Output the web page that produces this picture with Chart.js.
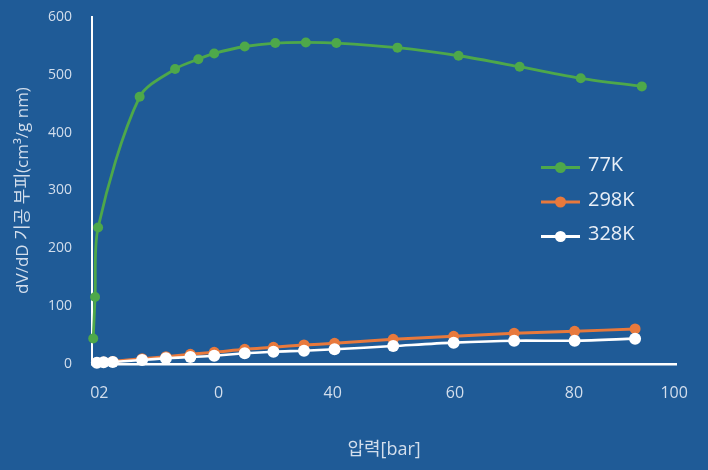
<!DOCTYPE html>
<html>
<head>
<meta charset="utf-8">
<script src="https://cdn.jsdelivr.net/npm/chart.js@4"></script>
<style>
  html, body { margin: 0; padding: 0; background: #1f5b97; }
  #wrap { width: 708px; height: 470px; }
</style>
</head>
<body>
<div id="wrap"><canvas id="c" width="708" height="470"></canvas></div>
<script>
// Pressure (bar) and pore volume readings per temperature
const p77 = [0.2, 0.5, 1, 7.8, 13.6, 17.4, 20, 25, 30, 35, 40, 50, 60, 70, 80, 90];
const v77 = [44, 116, 236, 462, 510, 527, 537, 549, 555, 556, 555, 547, 533, 514, 494, 480];

const p298 = [0.8, 1.9, 3.4, 8.2, 12.1, 16.1, 20, 25, 29.7, 34.7, 39.7, 49.3, 59.2, 69.1, 79, 88.9];
const v298 = [2.5, 3.5, 4.5, 9.2, 12.7, 16.8, 20.2, 25.4, 28.9, 32.9, 35.8, 42.7, 47.9, 53.1, 56.6, 60.6];

const p328 = [0.8, 1.9, 3.4, 8.2, 12.1, 16.1, 20, 25, 29.7, 34.7, 39.7, 49.3, 59.2, 69.1, 79, 88.9];
const v328 = [2.2, 2.9, 3.5, 6.9, 9.9, 12.1, 14.4, 18.5, 21.3, 23.0, 25.4, 31.1, 36.9, 40.3, 40.3, 43.8];

const seriesNames = ['77K', '298K', '328K'];
const xTickValues = [1.2, 20.7, 39.4, 59.4, 78.9, 95.3];
const xTickLabels = ['02', '0', '40', '60', '80', '100'];

const FONT = "'Open Sans', 'Noto Sans CJK KR', sans-serif";
const toXY = (xs, ys) => xs.map((x, i) => ({ x, y: ys[i] }));

// Legend drawn inside the plot area, using each dataset's own styling
const insideLegend = {
  id: 'insideLegend',
  afterDraw(chart) {
    const ctx = chart.ctx;
    const rows = [0, 1, 2];
    const y0 = 167.5, gap = 34.5;
    ctx.save();
    rows.forEach((di, r) => {
      const ds = chart.data.datasets[di];
      const y = y0 + r * gap;
      ctx.strokeStyle = ds.borderColor;
      ctx.lineWidth = 3;
      ctx.beginPath();
      ctx.moveTo(541, y);
      ctx.lineTo(580, y);
      ctx.stroke();
      ctx.fillStyle = ds.pointBackgroundColor;
      ctx.beginPath();
      ctx.arc(560.5, y, 5.5, 0, Math.PI * 2);
      ctx.fill();
      ctx.fillStyle = '#e9eff7';
      ctx.font = '20px ' + FONT;
      ctx.textAlign = 'left';
      ctx.textBaseline = 'middle';
      ctx.fillText(ds.label, 588, y - 2);
    });
    ctx.restore();
  }
};

new Chart(document.getElementById('c'), {
  type: 'scatter',
  data: {
    datasets: [
      {
        label: seriesNames[0], data: toXY(p77, v77), showLine: true,
        borderColor: '#4ea84a', backgroundColor: '#4ea84a',
        pointBackgroundColor: '#4ea84a', pointBorderWidth: 0,
        pointRadius: 5, borderWidth: 2.8, tension: 0.3,
        clip: false, order: 0
      },
      {
        label: seriesNames[1], data: toXY(p298, v298), showLine: true,
        borderColor: '#e8793c', backgroundColor: '#e8793c',
        pointBackgroundColor: '#e8793c', pointBorderWidth: 0,
        pointRadius: 5.5, borderWidth: 3, tension: 0.3,
        clip: false, order: 2
      },
      {
        label: seriesNames[2], data: toXY(p328, v328), showLine: true,
        borderColor: '#ffffff', backgroundColor: '#ffffff',
        pointBackgroundColor: '#ffffff', pointBorderWidth: 0,
        pointRadius: 6, borderWidth: 2.6, tension: 0.3,
        clip: false, order: 1
      }
    ]
  },
  options: {
    responsive: false,
    animation: false,
    layout: { padding: { left: 0, right: 28, top: 17, bottom: 0 } },
    plugins: {
      legend: { display: false },
      tooltip: { enabled: false }
    },
    scales: {
      x: {
        type: 'linear',
        min: 0,
        max: 95.6,
        afterFit(scale) { scale.height = 106; },
        afterBuildTicks(scale) { scale.ticks = xTickValues.map(v => ({ value: v })); },
        grid: { display: false, drawTicks: false },
        border: { display: true, color: '#ffffff', width: 2.5 },
        ticks: {
          padding: 20,
          color: '#d3deec',
          font: { family: FONT, size: 16 },
          autoSkip: false,
          maxRotation: 0,
          callback: (v, i) => xTickLabels[i]
        },
        title: {
          display: true,
          text: '압력[bar]',
          color: '#d3deec',
          font: { family: FONT, size: 18 },
          padding: { top: 0, bottom: 9 }
        }
      },
      y: {
        min: 0,
        max: 600,
        afterFit(scale) {
          scale.width = 92;
          scale.paddingTop = 0;
          scale.paddingBottom = 0;
        },
        grid: { display: false, drawTicks: false },
        border: { display: true, color: '#ffffff', width: 2 },
        ticks: {
          stepSize: 100,
          padding: 20,
          color: '#d3deec',
          font: { family: FONT, size: 14 }
        },
        title: {
          display: true,
          text: 'dV/dD 기공 부피(cm³/g nm)',
          color: '#d3deec',
          font: { family: FONT, size: 17 },
          padding: { top: 13, bottom: 0 }
        }
      }
    }
  },
  plugins: [insideLegend]
});
</script>
</body>
</html>
